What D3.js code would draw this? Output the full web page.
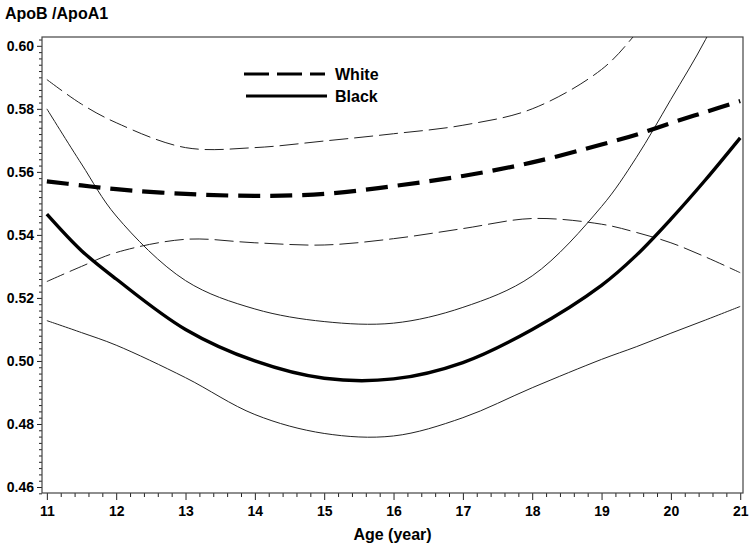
<!DOCTYPE html>
<html lang="en">
<head>
    <meta charset="UTF-8">
    <title>ApoB / ApoA1 by age</title>
    <script src="https://d3js.org/d3.v7.min.js"></script>
    <style>
        body {
            margin: 0;
            background: #fff;
            font-family: "Liberation Sans", Arial, sans-serif;
        }
        .tick text {
            font-size: 14px;
            font-weight: bold;
            fill: #000;
        }
        .tick line {
            stroke: #222;
        }
        .label {
            font-size: 16px;
            font-weight: bold;
            fill: #000;
        }
    </style>
</head>
<body>
<svg id="chart"></svg>
<script>
    const ages = [11, 11.5, 12, 13, 14, 15, 16, 17, 18, 19, 19.5, 20, 20.5, 21];

    // White: mean and 95% band
    const whiteMean  = [0.557, 0.5557, 0.5545, 0.553, 0.5524, 0.553, 0.5555, 0.5587, 0.563, 0.5687, 0.5718, 0.5755, 0.5790, 0.5825];
    const whiteUpper = [0.5893, 0.5815, 0.5756, 0.5677, 0.5677, 0.5698, 0.5721, 0.5748, 0.580, 0.5925, 0.604, 0.618, 0.634, 0.652];
    const whiteLower = [0.5252, 0.530, 0.5344, 0.5386, 0.5375, 0.5368, 0.5388, 0.542, 0.5452, 0.5434, 0.5408, 0.5375, 0.533, 0.528];

    // Black: mean and 95% band
    const blackMean  = [0.5466, 0.535, 0.526, 0.510, 0.500, 0.4945, 0.4943, 0.4995, 0.510, 0.524, 0.5335, 0.545, 0.5575, 0.5708];
    const blackUpper = [0.580, 0.5625, 0.546, 0.5255, 0.5165, 0.5125, 0.512, 0.517, 0.527, 0.549, 0.5645, 0.583, 0.602, 0.625];
    const blackLower = [0.5128, 0.509, 0.505, 0.4947, 0.483, 0.477, 0.4762, 0.482, 0.4915, 0.5005, 0.5045, 0.5088, 0.513, 0.5173];

    const yMajor = [0.46, 0.48, 0.50, 0.52, 0.54, 0.56, 0.58, 0.60];
    const xMajor = [11, 12, 13, 14, 15, 16, 17, 18, 19, 20, 21];

    const width = 750, height = 550;
    const margin = {top: 37, right: 7, bottom: 57, left: 42};

    const svg = d3.select("#chart")
        .attr("width", width)
        .attr("height", height);

    const x = d3.scaleLinear()
        .domain([10.93, 21.04])
        .range([margin.left, width - margin.right]);

    const y = d3.scaleLinear()
        .domain([0.4581, 0.6028])
        .range([height - margin.bottom, margin.top]);

    // clip so the bands that run off the top get cut at the frame
    svg.append("clipPath").attr("id", "plot-clip")
        .append("rect")
        .attr("x", x.range()[0])
        .attr("y", y.range()[1])
        .attr("width", x.range()[1] - x.range()[0])
        .attr("height", y.range()[0] - y.range()[1]);

    // minor ticks
    const yMinor = d3.range(0.458, 0.6029, 0.002).filter(v => Math.abs(Math.round(v * 50) - v * 50) > 1e-6);
    const xMinor = d3.range(11, 21.001, 0.2).filter(v => Math.abs(Math.round(v) - v) > 1e-6);

    svg.append("g")
        .attr("transform", `translate(${x.range()[0]},0)`)
        .call(d3.axisLeft(y).tickValues(yMinor).tickSize(3).tickFormat(""))
        .call(g => g.select(".domain").remove());

    svg.append("g")
        .attr("transform", `translate(${x.range()[0]},0)`)
        .call(d3.axisLeft(y).tickValues(yMajor).tickSize(5).tickPadding(3).tickFormat(d3.format(".2f")))
        .call(g => g.select(".domain").remove());

    svg.append("g")
        .attr("transform", `translate(0,${y.range()[0]})`)
        .call(d3.axisBottom(x).tickValues(xMinor).tickSize(4).tickFormat(""))
        .call(g => g.select(".domain").remove());

    svg.append("g")
        .attr("transform", `translate(0,${y.range()[0]})`)
        .call(d3.axisBottom(x).tickValues(xMajor).tickSize(7).tickPadding(6).tickFormat(d3.format("d")))
        .call(g => g.select(".domain").remove());

    // frame
    svg.append("rect")
        .attr("x", x.range()[0])
        .attr("y", y.range()[1])
        .attr("width", x.range()[1] - x.range()[0])
        .attr("height", y.range()[0] - y.range()[1])
        .attr("fill", "none")
        .attr("stroke", "#444")
        .attr("stroke-width", 1.2);

    const line = d3.line()
        .x(d => x(d[0]))
        .y(d => y(d[1]))
        .curve(d3.curveCatmullRom.alpha(0.5));

    const series = [
        {values: whiteUpper, width: 1, dash: "19,6", color: "#222"},
        {values: whiteLower, width: 1, dash: "19,6", color: "#222"},
        {values: blackUpper, width: 1, dash: null, color: "#222"},
        {values: blackLower, width: 1, dash: null, color: "#222"},
        {values: whiteMean, width: 4.2, dash: "22,10", color: "#000"},
        {values: blackMean, width: 3.4, dash: null, color: "#000"}
    ];

    const curves = svg.append("g").attr("clip-path", "url(#plot-clip)");

    series.forEach(s => {
        curves.append("path")
            .datum(ages.map((a, i) => [a, s.values[i]]))
            .attr("d", line)
            .attr("fill", "none")
            .attr("stroke", s.color)
            .attr("stroke-width", s.width)
            .attr("stroke-dasharray", s.dash);
    });

    // legend
    const legend = svg.append("g");
    legend.append("line")
        .attr("x1", 244).attr("x2", 325).attr("y1", 74).attr("y2", 74)
        .attr("stroke", "#000").attr("stroke-width", 3.2)
        .attr("stroke-dasharray", "25,8");
    legend.append("text").attr("class", "label")
        .attr("x", 335).attr("y", 79.5).text("White");
    legend.append("line")
        .attr("x1", 246).attr("x2", 327).attr("y1", 96).attr("y2", 96)
        .attr("stroke", "#000").attr("stroke-width", 2.8);
    legend.append("text").attr("class", "label")
        .attr("x", 335).attr("y", 102).text("Black");

    // axis titles
    svg.append("text").attr("class", "label")
        .attr("x", 5).attr("y", 19)
        .text("ApoB /ApoA1");

    svg.append("text").attr("class", "label")
        .attr("x", (x.range()[0] + x.range()[1]) / 2)
        .attr("y", 540)
        .attr("text-anchor", "middle")
        .text("Age (year)");
</script>
</body>
</html>
